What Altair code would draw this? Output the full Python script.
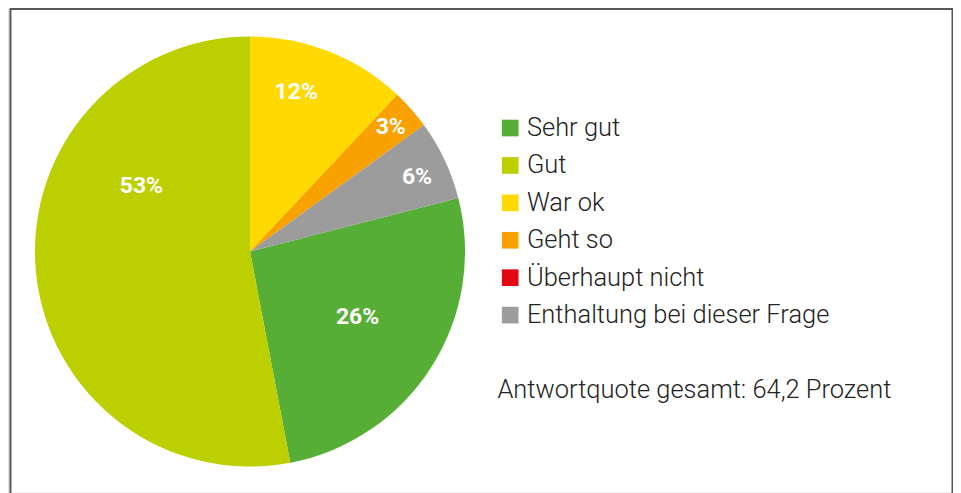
import math
import altair as alt
import pandas as pd

# ---- data ----
categories = ["Sehr gut", "Gut", "War ok", "Geht so", "Überhaupt nicht", "Enthaltung bei dieser Frage"]
values = [26, 53, 12, 3, 0, 6]
value_labels = ["26%", "53%", "12%", "3%", "", "6%"]
colors = ["#56ae37", "#bccf00", "#ffd900", "#f9a100", "#e30613", "#9c9c9c"]
pie_order = [4, 5, 0, 1, 2, 3]  # clockwise sequence from 12 o'clock
note = "Antwortquote gesamt: 64,2 Prozent"

# ---- label placement styles (radius in px, angular shift in degrees) ----
label_radius = [126, 127, 166, 188, 150, 183]
label_shift = [-1.2, 36.4, -5.4, 0.0, 0.0, 1.3]

df = pd.DataFrame({
    "cat": categories,
    "value": values,
    "label": value_labels,
    "ord": pie_order,
    "lr": label_radius,
    "ls": label_shift,
})

W, H = 947, 485
CX, CY = 242.5, 243.5
R = 215.5

color_scale = alt.Scale(domain=categories, range=colors)

pie = alt.Chart(df).mark_arc(radius=R).encode(
    theta=alt.Theta("value:Q", stack=True),
    order=alt.Order("ord:Q", sort="ascending"),
    color=alt.Color(
        "cat:N",
        scale=color_scale,
        sort=categories,
        legend=alt.Legend(
            title=note,
            titleOrient="bottom",
            titleAnchor="start",
            titleFont="Roboto",
            titleFontSize=25.5,
            titleFontWeight=300,
            titleColor="#222222",
            titlePadding=49,
            titleLimit=0,
            orient="none",
            legendX=490.5,
            legendY=107,
            direction="vertical",
            symbolType="square",
            symbolSize=279,
            symbolStrokeWidth=0,
            symbolOpacity=1,
            labelFont="Roboto",
            labelFontSize=25.5,
            labelFontWeight=300,
            labelColor="#222222",
            labelOffset=4,
            labelLimit=0,
            rowPadding=10.5,
            padding=0,
        ),
    ),
    x=alt.value(CX),
    y=alt.value(CY),
)

labels = alt.Chart(df).transform_window(
    cum="sum(value)", sort=[alt.SortField("ord", order="ascending")]
).transform_joinaggregate(
    total="sum(value)"
).transform_filter(
    "datum.value > 0"
).transform_calculate(
    ang="(datum.cum - datum.value / 2) / datum.total * 2 * PI + datum.ls * PI / 180"
).transform_calculate(
    px=f"{CX} + datum.lr * sin(datum.ang)",
    py=f"{CY} - datum.lr * cos(datum.ang)",
).mark_text(
    font="Roboto", fontSize=23, fontWeight="bold", color="white",
    align="center", baseline="middle",
).encode(
    x=alt.X("px:Q", scale=None),
    y=alt.Y("py:Q", scale=None),
    text="label:N",
)

frame_left = alt.Chart(df).mark_rule(color="#555555", strokeWidth=1.2).encode(
    x=alt.value(2.5), y=alt.value(0), y2=alt.value(H + 20)
)
frame_top = alt.Chart(df).mark_rule(color="#555555", strokeWidth=1.2).encode(
    x=alt.value(2), x2=alt.value(947), y=alt.value(0.5)
)
frame_right = alt.Chart(df).mark_rule(color="#555555", strokeWidth=1.2).encode(
    x=alt.value(946.5), y=alt.value(0), y2=alt.value(H + 20)
)

chart = alt.layer(pie, labels, frame_left, frame_top, frame_right).properties(
    width=W, height=H, padding=0, autosize=alt.AutoSizeParams(type="none"),
    background="white",
).configure_view(stroke=None).configure(font="Roboto")

chart.save("out.html", embed_options={"renderer": "svg", "actions": False})
